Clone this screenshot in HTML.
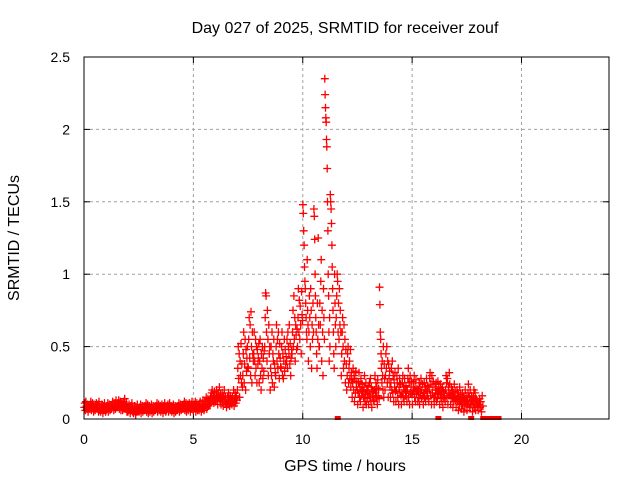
<!DOCTYPE html>
<html><head><meta charset="utf-8"><style>
html,body{margin:0;padding:0;background:#fff;}
svg{display:block;font-family:"Liberation Sans",sans-serif;}
</style></head><body>
<svg id="chart" width="640" height="480">
<rect x="0" y="0" width="640" height="480" fill="#fff"/>
<g id="grid"></g>
<g id="ticks"></g>
<g id="marks"></g>
<rect x="84" y="57" width="525" height="362" fill="none" stroke="#000" stroke-width="1"/>
<text x="345" y="33" text-anchor="middle" font-size="16" fill="#000">Day 027 of 2025, SRMTID for receiver zouf</text>
<text x="345" y="471" text-anchor="middle" font-size="16" fill="#000">GPS time / hours</text>
<text transform="translate(19,238) rotate(-90)" text-anchor="middle" font-size="16" fill="#000">SRMTID / TECUs</text>
</svg>
<script>
const xTicks=[0,5,10,15,20];
const yTicks=[0,0.5,1,1.5,2,2.5];
const yTickLabels=["0","0.5","1","1.5","2","2.5"];
const binWidth=0.25;
const binStarts=[0,0.25,0.5,0.75,1,1.25,1.5,1.75,2,2.25,2.5,2.75,3,3.25,3.5,3.75,4,4.25,4.5,4.75,5,5.25,5.5,5.75,6,6.25,6.5,6.75,7,7.25,7.5,7.75,8,8.25,8.5,8.75,9,9.25,9.5,9.75,10,10.25,10.5,10.75,11,11.25,11.5,11.75,12,12.25,12.5,12.75,13,13.25,13.5,13.75,14,14.25,14.5,14.75,15,15.25,15.5,15.75,16,16.25,16.5,16.75,17,17.25,17.5,17.75,18];
const binValues=[
[0.08,0.11,0.06,0.12,0.09,0.07,0.1,0.05,0.09,0.08],
[0.07,0.1,0.12,0.06,0.09,0.11,0.08,0.05,0.1,0.07],
[0.06,0.09,0.11,0.08,0.07,0.1,0.05,0.12,0.08,0.06],
[0.05,0.08,0.1,0.07,0.04,0.09,0.06,0.11,0.08,0.05],
[0.06,0.09,0.07,0.11,0.05,0.08,0.1,0.06,0.07,0.09],
[0.07,0.1,0.12,0.08,0.06,0.09,0.11,0.07,0.13,0.08],
[0.08,0.11,0.09,0.13,0.07,0.1,0.12,0.06,0.09,0.1],
[0.06,0.1,0.12,0.08,0.14,0.07,0.09,0.11,0.05,0.08],
[0.05,0.08,0.1,0.07,0.04,0.09,0.06,0.11,0.08,0.05],
[0.04,0.07,0.09,0.06,0.03,0.08,0.05,0.1,0.07,0.06],
[0.05,0.08,0.06,0.1,0.04,0.07,0.09,0.05,0.06,0.08],
[0.06,0.09,0.07,0.11,0.05,0.08,0.1,0.04,0.07,0.09],
[0.05,0.08,0.06,0.1,0.04,0.07,0.09,0.05,0.06,0.08],
[0.06,0.09,0.07,0.11,0.05,0.08,0.1,0.06,0.07,0.09],
[0.05,0.08,0.1,0.07,0.04,0.09,0.06,0.11,0.08,0.05],
[0.06,0.09,0.07,0.1,0.05,0.08,0.11,0.06,0.07,0.09],
[0.05,0.08,0.06,0.1,0.04,0.07,0.09,0.05,0.06,0.08],
[0.06,0.09,0.07,0.11,0.05,0.08,0.1,0.06,0.07,0.09],
[0.07,0.1,0.08,0.12,0.06,0.09,0.11,0.05,0.08,0.1],
[0.06,0.09,0.11,0.08,0.05,0.1,0.07,0.12,0.09,0.06],
[0.07,0.1,0.08,0.12,0.05,0.09,0.11,0.06,0.08,0.1],
[0.06,0.09,0.12,0.08,0.05,0.1,0.07,0.13,0.09,0.06],
[0.08,0.12,0.1,0.15,0.07,0.11,0.14,0.09,0.13,0.1],
[0.1,0.15,0.12,0.18,0.2,0.13,0.16,0.11,0.19,0.14],
[0.12,0.16,0.2,0.14,0.1,0.18,0.15,0.22,0.13,0.17],
[0.1,0.14,0.18,0.12,0.09,0.16,0.2,0.13,0.15,0.11],
[0.08,0.12,0.15,0.1,0.18,0.13,0.09,0.16,0.11,0.14],
[0.1,0.15,0.12,0.2,0.09,0.14,0.18,0.11,0.16,0.13],
[0.2,0.35,0.5,0.28,0.45,0.15,0.4,0.3,0.52,0.25,0.38,0.22],
[0.3,0.45,0.6,0.25,0.38,0.55,0.2,0.48,0.33,0.42,0.5,0.36],
[0.35,0.55,0.7,0.42,0.65,0.3,0.74,0.5,0.25,0.6,0.45,0.4],
[0.45,0.6,0.4,0.3,0.55,0.35,0.5,0.25,0.48,0.38,0.42,0.52],
[0.25,0.4,0.55,0.3,0.2,0.45,0.35,0.5,0.28,0.42,0.33,0.47],
[0.5,0.7,0.87,0.85,0.6,0.4,0.75,0.55,0.3,0.65,0.45,0.5],
[0.2,0.35,0.5,0.3,0.6,0.25,0.45,0.4,0.55,0.22,0.38,0.32],
[0.3,0.5,0.65,0.4,0.55,0.35,0.6,0.45,0.28,0.52,0.42,0.36],
[0.35,0.5,0.6,0.3,0.45,0.28,0.4,0.55,0.33,0.48,0.38,0.43],
[0.4,0.55,0.35,0.6,0.5,0.45,0.65,0.38,0.52,0.3,0.42,0.48],
[0.45,0.6,0.75,0.5,0.85,0.55,0.7,0.4,0.65,0.58,0.48,0.62],
[0.5,0.7,0.9,0.6,0.82,0.55,0.78,0.65,0.45,0.88,0.72,0.68],
[1.48,1.42,1.3,1.2,1.05,0.95,0.9,0.8,0.7,0.6,0.55,1.1,0.75,0.65],
[0.4,0.6,0.85,0.7,0.5,0.9,0.75,0.35,0.65,0.55,0.8,0.6],
[1.45,1.4,1.24,1.0,0.85,0.7,0.6,0.45,0.35,0.8,0.55,1.25,0.65,0.5],
[0.5,0.8,0.65,0.95,1.1,0.4,0.75,0.6,0.3,0.9,0.7,0.55],
[2.35,2.24,2.15,2.08,2.05,1.93,1.88,1.73,1.5,1.3,1.0,0.85,0.6,0.4,0.7,0.5],
[1.55,1.5,1.45,1.35,1.2,1.05,0.9,0.75,0.6,0.45,0.35,1.0,0.8,0.65],
[0.5,0.7,0.85,1.0,0.95,0.6,0.8,0.55,0.9,0.65,0.75,0.6],
[0.3,0.45,0.6,0.7,0.5,0.35,0.65,0.4,0.55,0.25,0.48,0.38],
[0.2,0.3,0.45,0.5,0.25,0.35,0.4,0.28,0.48,0.22,0.32,0.27],
[0.15,0.25,0.35,0.2,0.3,0.12,0.28,0.18,0.33,0.22,0.26,0.2],
[0.1,0.18,0.25,0.32,0.15,0.22,0.12,0.28,0.2,0.16,0.24,0.19],
[0.08,0.15,0.22,0.3,0.12,0.18,0.25,0.1,0.2,0.14,0.17,0.23],
[0.1,0.18,0.25,0.15,0.28,0.12,0.22,0.08,0.2,0.16,0.19,0.13],
[0.12,0.2,0.3,0.18,0.25,0.15,0.22,0.1,0.27,0.16,0.21,0.14],
[0.91,0.79,0.6,0.55,0.45,0.35,0.25,0.4,0.3,0.2,0.5,0.15,0.38,0.28],
[0.2,0.3,0.45,0.35,0.5,0.25,0.4,0.15,0.38,0.28,0.33,0.22],
[0.15,0.25,0.35,0.2,0.4,0.18,0.3,0.12,0.27,0.22,0.32,0.19],
[0.12,0.2,0.3,0.25,0.15,0.35,0.1,0.22,0.28,0.18,0.24,0.16],
[0.1,0.18,0.25,0.3,0.15,0.22,0.12,0.28,0.2,0.16,0.23,0.19],
[0.12,0.2,0.28,0.35,0.15,0.25,0.1,0.3,0.18,0.22,0.26,0.17],
[0.1,0.18,0.25,0.2,0.3,0.15,0.22,0.12,0.27,0.17,0.21,0.19],
[0.12,0.2,0.15,0.25,0.1,0.22,0.18,0.28,0.14,0.2,0.24,0.16],
[0.1,0.18,0.25,0.15,0.22,0.12,0.2,0.28,0.16,0.19,0.23,0.14],
[0.12,0.2,0.28,0.32,0.16,0.24,0.1,0.3,0.18,0.22,0.26,0.15],
[0.1,0.15,0.22,0.18,0.25,0.12,0.2,0.14,0.26,0.17,0.21,0.19],
[0.1,0.17,0.24,0.15,0.2,0.12,0.22,0.08,0.19,0.14,0.18,0.16],
[0.12,0.2,0.3,0.25,0.15,0.28,0.1,0.22,0.18,0.32,0.24,0.17],
[0.1,0.16,0.22,0.14,0.2,0.08,0.18,0.12,0.24,0.15,0.19,0.13],
[0.08,0.14,0.2,0.12,0.18,0.06,0.16,0.1,0.22,0.13,0.17,0.11],
[0.07,0.12,0.18,0.1,0.15,0.05,0.14,0.09,0.2,0.11,0.16,0.13],
[0.06,0.12,0.18,0.24,0.1,0.15,0.08,0.2,0.13,0.1,0.16,0.12],
[0.05,0.1,0.15,0.2,0.08,0.12,0.18,0.06,0.14,0.11,0.13,0.09],
[0.06,0.1,0.14,0.08,0.12,0.05,0.16,0.09]
];
const zeroTimes=[11.6,16.2,17.7,18.25,18.5,18.6,18.75,18.85,18.95];

const X0=84,X1=609,Y0=419,Y1=57,XMAX=24,YMAX=2.5;
const sx=v=>X0+(X1-X0)*v/XMAX;
const sy=v=>Y0-(Y0-Y1)*v/YMAX;
const NS="http://www.w3.org/2000/svg";
const grid=document.getElementById('grid'),ticks=document.getElementById('ticks'),marks=document.getElementById('marks');
function mk(tag,attrs,parent){const e=document.createElementNS(NS,tag);for(const k in attrs)e.setAttribute(k,attrs[k]);parent.appendChild(e);return e;}
xTicks.forEach(t=>{
  const x=sx(t);
  if(t>0){const g=mk('line',{x1:x,x2:x,y1:Y0,y2:Y1,stroke:'#a0a0a0','stroke-dasharray':'3,3'},grid);
  
  }
  mk('line',{x1:x,x2:x,y1:Y0,y2:Y0-6,stroke:'#000'},ticks);
  mk('line',{x1:x,x2:x,y1:Y1,y2:Y1+6,stroke:'#000'},ticks);
  const l=mk('text',{x:x,y:444,'text-anchor':'middle','font-size':'14',fill:'#000'},ticks);
  l.textContent=String(t);
  
  
});
yTicks.forEach((t,i)=>{
  const y=sy(t);
  if(t>0&&t<YMAX){const g=mk('line',{x1:X0,x2:X1,y1:y,y2:y,stroke:'#a0a0a0','stroke-dasharray':'3,3'},grid);
  
  }
  mk('line',{x1:X0,x2:X0+6,y1:y,y2:y,stroke:'#000'},ticks);
  mk('line',{x1:X1,x2:X1-6,y1:y,y2:y,stroke:'#000'},ticks);
  const l=mk('text',{x:70,y:y+5,'text-anchor':'end','font-size':'14',fill:'#000'},ticks);
  l.textContent=yTickLabels[i];
  
  
});
let d='';
binValues.forEach((vals,b)=>{
  vals.forEach((v,i)=>{
    const t=binStarts[b]+(i+0.5)/vals.length*binWidth;
    const x=sx(t),y=sy(v);
    d+=`M${(x-4).toFixed(1)} ${y.toFixed(1)}h8M${x.toFixed(1)} ${(y-4).toFixed(1)}v8`;
  });
});
const p=mk('path',{d:d,stroke:'#ff0000','stroke-width':'1.3',fill:'none'},marks);


zeroTimes.forEach(t=>{
  const r=mk('rect',{x:sx(t)-3,y:Y0-3,width:6,height:4,fill:'#ff0000'},marks);
  
  
});
</script>
</body></html>
